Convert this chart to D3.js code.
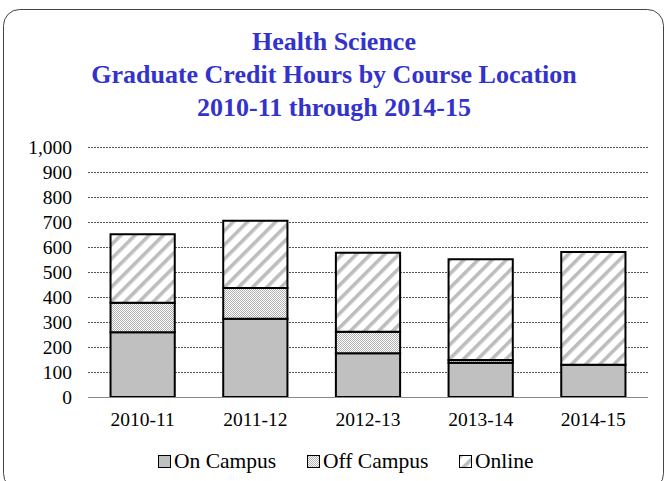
<!DOCTYPE html>
<html>
<head>
<meta charset="utf-8">
<script src="https://cdn.jsdelivr.net/npm/d3@7"></script>
<style>
  body { margin: 0; background: #fff; }
  text { font-family: "Liberation Serif", "Times New Roman", serif; }
</style>
</head>
<body>
<svg id="chart" width="666" height="481"></svg>
<script>
// chart data
var years = ["2010-11", "2011-12", "2012-13", "2013-14", "2014-15"];
var onCampus = [259, 313, 175, 137, 129];
var offCampus = [118, 123, 86, 11, 0];
var online = [274, 269, 316, 403, 451];
var seriesNames = ["On Campus", "Off Campus", "Online"];
var yTicks = [0, 100, 200, 300, 400, 500, 600, 700, 800, 900, 1000];
var titleLines = ["Health Science", "Graduate Credit Hours by Course Location", "2010-11 through 2014-15"];

var svg = d3.select("#chart"),
    width = +svg.attr("width"),
    height = +svg.attr("height");

var margin = {top: 147, right: 18, bottom: 84, left: 88};

// patterns
var defs = svg.append("defs");
var hatch = defs.append("pattern")
    .attr("id", "hatch")
    .attr("patternUnits", "userSpaceOnUse")
    .attr("width", 10).attr("height", 10)
    .attr("patternTransform", "rotate(45)");
hatch.append("rect").attr("width", 10).attr("height", 10).attr("fill", "#fff");
hatch.append("rect").attr("x", 0).attr("width", 3.6).attr("height", 10).attr("fill", "#bdbdbd");

var checker = defs.append("pattern")
    .attr("id", "checker")
    .attr("patternUnits", "userSpaceOnUse")
    .attr("width", 2).attr("height", 2);
checker.append("rect").attr("width", 2).attr("height", 2).attr("fill", "#fff");
checker.append("rect").attr("width", 1).attr("height", 1).attr("fill", "#b0b0b0");
checker.append("rect").attr("x", 1).attr("y", 1).attr("width", 1).attr("height", 1).attr("fill", "#b0b0b0");

var fills = ["#c0c0c0", "url(#checker)", "url(#hatch)"];

// outer frame
svg.append("rect")
    .attr("x", 3.5).attr("y", 9.5)
    .attr("width", 660).attr("height", 480)
    .attr("rx", 16).attr("ry", 16)
    .attr("fill", "#fff")
    .attr("stroke", "#444")
    .attr("stroke-width", 1);

// title
svg.append("g").selectAll("text")
    .data(titleLines)
    .enter().append("text")
    .attr("x", 334)
    .attr("y", function(d, i) { return 50 + i * 33; })
    .attr("text-anchor", "middle")
    .attr("font-size", "26px")
    .attr("font-weight", "bold")
    .attr("fill", "#3333cc")
    .text(function(d) { return d; });

var x = d3.scaleBand()
    .domain(years)
    .range([margin.left, width - margin.right])
    .paddingInner(0.43)
    .paddingOuter(0.2);

var y = d3.scaleLinear()
    .domain([0, 1000])
    .range([height - margin.bottom, margin.top]);

// gridlines
svg.append("g").selectAll("line")
    .data(yTicks.slice(1))
    .enter().append("line")
    .attr("x1", margin.left)
    .attr("x2", width - margin.right)
    .attr("y1", function(d) { return Math.round(y(d)) + 0.5; })
    .attr("y2", function(d) { return Math.round(y(d)) + 0.5; })
    .attr("stroke", "#555")
    .attr("stroke-width", 1)
    .attr("stroke-dasharray", "2,1");

// y axis labels
var yAxis = d3.axisLeft(y)
    .tickValues(yTicks)
    .tickFormat(d3.format(","))
    .tickSize(0)
    .tickPadding(16);

var yg = svg.append("g")
    .attr("transform", "translate(" + margin.left + ",0)")
    .call(yAxis);
yg.select(".domain").remove();
yg.selectAll("text")
    .attr("font-size", "19.5px")
    .attr("fill", "#000");

// stacked data
var rows = years.map(function(yr, i) {
    return {year: yr, "On Campus": onCampus[i], "Off Campus": offCampus[i], "Online": online[i]};
});
var stack = d3.stack().keys(seriesNames);
var layers = stack(rows);

var layer = svg.append("g").selectAll("g")
    .data(layers)
    .enter().append("g")
    .attr("fill", function(d, i) { return fills[i]; });

layer.selectAll("rect")
    .data(function(d) { return d; })
    .enter().append("rect")
    .filter(function(d) { return d[1] - d[0] > 0; })
    .attr("x", function(d) { return x(d.data.year); })
    .attr("y", function(d) { return y(d[1]); })
    .attr("width", x.bandwidth())
    .attr("height", function(d) { return y(d[0]) - y(d[1]); })
    .attr("stroke", "#000")
    .attr("stroke-width", 2);

// x axis
var xAxis = d3.axisBottom(x).tickSize(0).tickPadding(15);
var xg = svg.append("g")
    .attr("transform", "translate(0," + y(0) + ")")
    .call(xAxis);
xg.select(".domain")
    .attr("stroke", "#888")
    .attr("d", "M" + margin.left + ",0.5H" + (width - margin.right));
xg.selectAll("text")
    .attr("font-size", "19.5px")
    .attr("fill", "#000");

// legend
var legendX = [158, 307, 459];
var legend = svg.append("g").selectAll("g")
    .data(seriesNames)
    .enter().append("g")
    .attr("transform", function(d, i) { return "translate(" + legendX[i] + ",455)"; });

legend.append("rect")
    .attr("x", 0.5).attr("y", 0.5)
    .attr("width", 12).attr("height", 12)
    .attr("fill", function(d, i) { return fills[i]; })
    .attr("stroke", "#000")
    .attr("stroke-width", 1);

legend.append("text")
    .attr("x", 16)
    .attr("y", 13)
    .attr("font-size", "21.5px")
    .attr("fill", "#000")
    .text(function(d) { return d; });
</script>
</body>
</html>
